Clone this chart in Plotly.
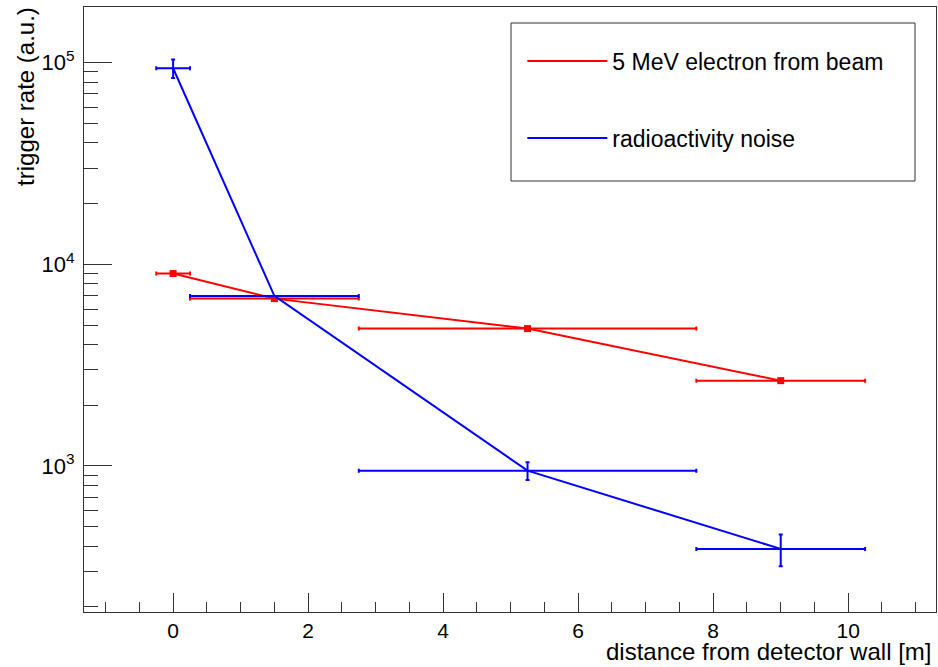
import plotly.graph_objects as go

# ---- data ----
distance = [0.0, 1.5, 5.25, 9.0]          # m
distance_err = [0.25, 1.25, 2.5, 1.25]
beam_rate = [9000, 6760, 4800, 2650]       # 5 MeV electron from beam
noise_rate = [93800, 6970, 948, 388]       # radioactivity noise
noise_err = [9800, 0, 95, 70]

y_major = [1e3, 1e4, 1e5]
y_major_text = ["10<sup>3</sup>", "10<sup>4</sup>", "10<sup>5</sup>"]
y_minor = [m * 10 ** e for e in (2, 3, 4, 5) for m in range(2, 10) if 180 < m * 10 ** e < 1.9e5]
x_major = [0, 2, 4, 6, 8, 10]

FONT = "Liberation Sans, Arial, Helvetica, sans-serif"
RED = "#ff0000"
BLUE = "#0000ff"

fig = go.Figure()

fig.add_trace(go.Scatter(
    x=distance, y=beam_rate, mode="lines+markers",
    name="5 MeV electron from beam", showlegend=False,
    line=dict(color=RED, width=2),
    marker=dict(symbol="square", size=7, color=RED),
    error_x=dict(type="data", array=distance_err, color=RED, thickness=2, width=2),
))
fig.add_trace(go.Scatter(
    x=distance, y=noise_rate, mode="lines",
    name="radioactivity noise", showlegend=False,
    line=dict(color=BLUE, width=2),
    error_x=dict(type="data", array=distance_err, color=BLUE, thickness=2, width=2),
    error_y=dict(type="data", array=noise_err, color=BLUE, thickness=2, width=2),
))
# legend entries (line samples only, as in the reference)
fig.add_trace(go.Scatter(x=[None], y=[None], mode="lines", name="5 MeV electron from beam",
                         line=dict(color=RED, width=2), legendgroup="a"))
fig.add_trace(go.Scatter(x=[None], y=[None], mode="lines", name="radioactivity noise",
                         line=dict(color=BLUE, width=2), legendgroup="b"))

fig.update_layout(
    width=938, height=667, autosize=False,
    margin=dict(l=84, r=2, t=7, b=55),
    paper_bgcolor="white", plot_bgcolor="white",
    font=dict(family=FONT, size=22, color="black"),
    showlegend=True,
    legend=dict(
        x=0.5145, y=0.946, xanchor="left", yanchor="top",
        bgcolor="rgba(0,0,0,0)", borderwidth=0,
        font=dict(family=FONT, size=23, color="black"),
        tracegroupgap=44, itemwidth=80,
    ),
    shapes=[dict(
        type="rect", xref="paper", yref="paper",
        x0=(511 - 84) / 852, x1=(915 - 84) / 852,
        y0=1 - (181 - 7) / 605, y1=1 - (23 - 7) / 605,
        line=dict(color="#333333", width=1), fillcolor="rgba(0,0,0,0)", layer="below",
    )],
    annotations=[
        dict(text="distance from detector wall [m]", xref="paper", yref="paper",
             x=0.9965, y=-0.0905, xanchor="right", yanchor="bottom", showarrow=False,
             font=dict(family=FONT, size=24, color="black")),
        dict(text="trigger rate (a.u.)", xref="paper", yref="paper", textangle=-90,
             x=-0.069, y=1.003, xanchor="center", yanchor="top", showarrow=False,
             font=dict(family=FONT, size=24, color="black")),
    ],
)

fig.update_xaxes(
    range=[-1.32, 11.3], showgrid=False, zeroline=False,
    showline=True, linecolor="#333333", linewidth=1, mirror=True,
    tickmode="array", tickvals=x_major, ticks="inside", ticklen=19, tickcolor="#333333",
    tickfont=dict(size=21), ticklabelstandoff=0,
    minor=dict(dtick=0.5, tick0=0, ticks="inside", ticklen=10, tickcolor="#333333", showgrid=False),
)
fig.update_yaxes(
    type="log", range=[2.276, 5.276], showgrid=False, zeroline=False,
    showline=True, linecolor="#333333", linewidth=1, mirror=True,
    tickmode="array", tickvals=y_major, ticktext=y_major_text,
    ticks="inside", ticklen=28, tickcolor="#333333", ticklabelstandoff=4,
    minor=dict(tickmode="array", tickvals=y_minor, ticks="inside", ticklen=14,
               tickcolor="#333333", showgrid=False),
)

fig.write_html("out.html")
